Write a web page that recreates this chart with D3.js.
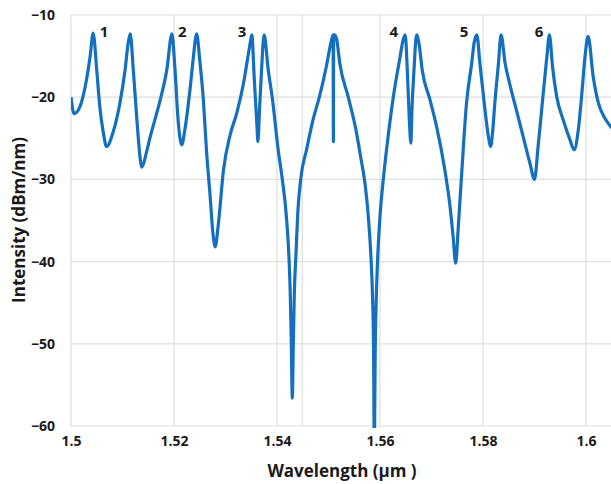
<!DOCTYPE html>
<html>
<head>
<meta charset="utf-8">
<script src="https://cdn.jsdelivr.net/npm/d3@7"></script>
<style>
  body { margin: 0; background: #fff; }
  text { font-family: "Open Sans", "Noto Sans", sans-serif; font-weight: bold; fill: #1a1a1a; }
</style>
</head>
<body>
<div id="chart"></div>
<script>
// Width and height
var chart_width  = 611;
var chart_height = 484;

// Data
var wavelength = [
  1.5000, 1.5006, 1.5017, 1.5030, 1.5037, 1.5043, 1.5050, 1.5056, 1.5063, 1.5069,
  1.5082, 1.5095, 1.5105, 1.5111, 1.5115, 1.5121, 1.5128, 1.5134, 1.5137, 1.5147,
  1.5153, 1.5160, 1.5173, 1.5186, 1.5196, 1.5202, 1.5208, 1.5215, 1.5221, 1.5231,
  1.5237, 1.5244, 1.5250, 1.5257, 1.5263, 1.5270, 1.5276, 1.5280, 1.5286, 1.5296,
  1.5309, 1.5322, 1.5335, 1.5348, 1.5351, 1.5356, 1.5361, 1.5363, 1.5366, 1.5370,
  1.5375, 1.5383,
  1.53907, 1.54025, 1.54103, 1.54181, 1.54233, 1.54258, 1.54278, 1.54297,
  1.54317, 1.54336, 1.54369, 1.54404, 1.54460, 1.54577, 1.54705, 1.54822,
  1.5496, 1.5505, 1.5509, 1.55095, 1.5510, 1.5512, 1.5516, 1.5522,
  1.55384, 1.55534, 1.55631, 1.55709, 1.55773, 1.55825, 1.55854, 1.55874, 1.55889,
  1.55909, 1.55930, 1.55955, 1.56000, 1.56064, 1.56161, 1.56258,
  1.5639, 1.5645, 1.5649,
  1.5653, 1.5657, 1.5660, 1.5662, 1.5666, 1.5671, 1.5676, 1.5682, 1.5697, 1.5710,
  1.5726, 1.5736, 1.5742, 1.5747, 1.5752, 1.5759, 1.5768, 1.5778, 1.5783, 1.5788,
  1.5794, 1.5804, 1.5810, 1.5815, 1.5819, 1.5823, 1.5830, 1.5835, 1.5843, 1.5852,
  1.5865, 1.5878, 1.5891, 1.5900, 1.5907, 1.5917, 1.5924, 1.5929, 1.5935, 1.5943,
  1.5956, 1.5969, 1.5977, 1.5985, 1.5992, 1.5998, 1.6004, 1.6014, 1.6024, 1.6037,
  1.6047, 1.6056
];
var intensity = [
  -20.0, -22.0, -21.2, -17.9, -15.1, -12.2, -16.7, -21.2, -24.4, -26.0,
  -24.2, -20.7, -16.7, -13.4, -12.3, -16.7, -22.8, -27.3, -28.5, -26.6,
  -25.0, -23.4, -20.4, -16.7, -12.3, -16.7, -22.8, -25.8, -24.0, -19.1,
  -15.5, -12.3, -15.5, -20.3, -26.4, -31.9, -36.8, -38.2, -35.5, -28.9,
  -24.6, -21.9, -18.3, -13.4, -12.4, -17.9, -23.4, -25.4, -21.6, -16.7,
  -12.4, -16.7,
  -20.0, -26.5, -30.0, -34.4, -39.6, -44.0, -50.0, -56.6,
  -50.0, -44.0, -39.0, -34.0, -30.0, -26.3, -22.6, -20.0,
  -16.2, -13.3, -12.4, -25.4, -12.4, -12.4, -13.0, -15.9,
  -20.0, -24.0, -27.5, -30.5, -34.5, -39.5, -44.0, -50.0, -62.0,
  -50.0, -44.0, -39.5, -34.5, -30.0, -24.6, -20.0,
  -15.1, -13.0, -12.4,
  -16.7, -22.8, -25.6, -21.6, -16.7, -12.4, -13.6, -16.7, -20.3, -23.6,
  -28.9, -33.3, -37.0, -40.2, -35.8, -28.9, -20.7, -15.9, -13.3, -12.4,
  -15.9, -21.6, -24.6, -26.0, -24.0, -20.7, -15.9, -12.4, -15.9, -18.4,
  -21.6, -24.8, -28.0, -30.0, -26.0, -19.5, -15.1, -12.4, -16.3, -19.9,
  -22.8, -25.2, -26.4, -24.0, -19.5, -15.1, -12.6, -17.5, -20.7, -22.6,
  -23.5, -24.1
];

var x_ticks = [1.5, 1.52, 1.54, 1.56, 1.58, 1.6];
var x_tick_labels = ["1.5", "1.52", "1.54", "1.56", "1.58", "1.6"];
var y_ticks = [-10, -20, -30, -40, -50, -60];
var extra_grid = [1.5449];

var peak_labels = ["1", "2", "3", "4", "5", "6"];
var peak_label_x = [1.5064, 1.5216, 1.5332, 1.5627, 1.5763, 1.5909];
var peak_label_y = -12.2;

var x_title = "Wavelength (\u00b5m )";
var y_title = "Intensity (dBm/nm)";

// Scales
var plot_left = 71, plot_top = 15, plot_bottom = 426;
var x = d3.scaleLinear().domain([1.5, 1.6]).range([plot_left, plot_left + 515]);
var y = d3.scaleLinear().domain([-60, -10]).range([plot_bottom, plot_top]);

var svg = d3.select("#chart")
    .append("svg")
    .attr("width", chart_width)
    .attr("height", chart_height);

svg.append("defs").append("clipPath")
    .attr("id", "plot-clip")
    .append("rect")
    .attr("x", plot_left)
    .attr("y", 0)
    .attr("width", chart_width - plot_left)
    .attr("height", plot_bottom + 2);

// Gridlines
var grid = svg.append("g").attr("stroke", "#dedede").attr("stroke-width", 1.2);
grid.selectAll(".hg")
    .data(y_ticks)
    .enter()
    .append("line")
    .attr("x1", plot_left)
    .attr("x2", chart_width)
    .attr("y1", function(d){ return y(d); })
    .attr("y2", function(d){ return y(d); });

grid.selectAll(".vg")
    .data(x_ticks.concat(extra_grid))
    .enter()
    .append("line")
    .attr("x1", function(d){ return x(d); })
    .attr("x2", function(d){ return x(d); })
    .attr("y1", y(-10))
    .attr("y2", y(-60));

// Axes (labels only)
var xAxis = d3.axisBottom(x)
    .tickValues(x_ticks)
    .tickFormat(function(d, i){ return x_tick_labels[i]; })
    .tickSize(0)
    .tickPadding(10);
var gx = svg.append("g")
    .attr("transform", "translate(0," + plot_bottom + ")")
    .call(xAxis);
gx.select(".domain").remove();
gx.selectAll("text")
    .style("font-size", "14px")
    .style("font-family", "'Open Sans', sans-serif")
    .style("font-weight", "bold")
    .attr("fill", "#1a1a1a");

var yAxis = d3.axisLeft(y)
    .tickValues(y_ticks)
    .tickSize(0)
    .tickPadding(16);
var gy = svg.append("g")
    .attr("transform", "translate(" + plot_left + ",0)")
    .call(yAxis);
gy.select(".domain").remove();
gy.selectAll("text")
    .style("font-size", "14px")
    .style("font-family", "'Open Sans', sans-serif")
    .style("font-weight", "bold")
    .attr("fill", "#1a1a1a");

// Curve
var points = wavelength.map(function(d, i){ return [d, intensity[i]]; });
var line = d3.line()
    .x(function(d){ return x(d[0]); })
    .y(function(d){ return y(d[1]); })
    .curve(d3.curveMonotoneX);

svg.append("path")
    .datum(points)
    .attr("clip-path", "url(#plot-clip)")
    .attr("d", line)
    .attr("fill", "none")
    .attr("stroke", "#1470be")
    .attr("stroke-width", 3.2)
    .attr("stroke-linejoin", "round");

// Peak numbers
svg.selectAll(".peak")
    .data(peak_labels)
    .enter()
    .append("text")
    .attr("x", function(d, i){ return x(peak_label_x[i]); })
    .attr("y", y(peak_label_y))
    .attr("text-anchor", "middle")
    .attr("dominant-baseline", "middle")
    .style("font-size", "15px")
    .text(function(d){ return d; });

// Titles
svg.append("text")
    .attr("x", 342)
    .attr("y", 472)
    .attr("text-anchor", "middle")
    .attr("dominant-baseline", "middle")
    .style("font-size", "17px")
    .text(x_title);

svg.append("text")
    .attr("transform", "translate(20," + 220 + ") rotate(-90)")
    .attr("text-anchor", "middle")
    .attr("dominant-baseline", "middle")
    .style("font-size", "17px")
    .text(y_title);
</script>
</body>
</html>
